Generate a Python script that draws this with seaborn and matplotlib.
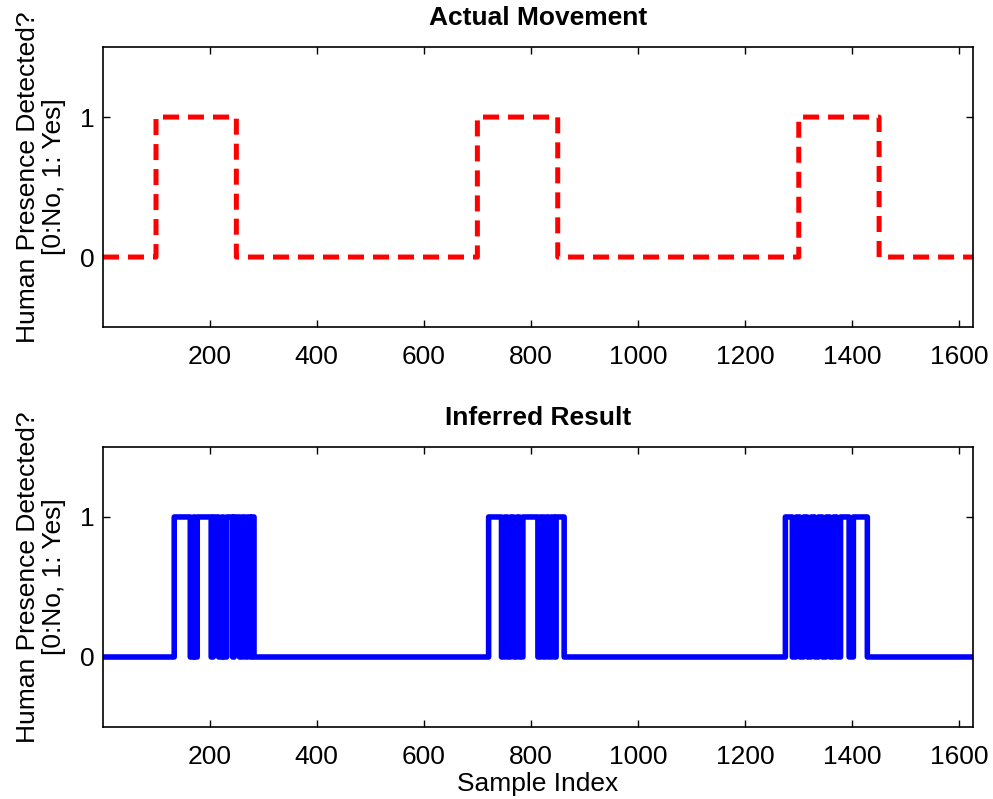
import numpy as np
import pandas as pd
import matplotlib
matplotlib.use("Agg")
import matplotlib.pyplot as plt
import seaborn as sns

# ---- data ----
n_samples = 1625
actual_on = [(100, 250), (700, 850), (1300, 1450)]
inferred_on_c1 = [(134, 164), (170, 172), (177, 203), (207, 217), (223, 226),
                  (232, 243), (246, 256), (261, 266), (271, 276), (279, 283)]
inferred_on_c2 = [(721, 745), (751, 756), (762, 768), (774, 779), (785, 813),
                  (818, 823), (828, 833), (838, 843), (847, 862)]
inferred_on_c3 = [(1275, 1288), (1295, 1302), (1309, 1316), (1323, 1330),
                  (1337, 1344), (1351, 1358), (1365, 1371), (1378, 1394),
                  (1402, 1428)]
x_ticks = [200, 400, 600, 800, 1000, 1200, 1400, 1600]
y_ticks = [0, 1]
titles = ["Actual Movement", "Inferred Result"]
ylabel = "Human Presence Detected?\n[0:No, 1: Yes]"
xlabel = "Sample Index"


def build(intervals):
    s = np.arange(1, n_samples + 1)
    v = np.zeros(n_samples)
    for a, b in intervals:
        v[(s >= a) & (s < b)] = 1
    return pd.DataFrame({"sample": s, "value": v})


df_actual = build(actual_on)
df_inferred = build(inferred_on_c1 + inferred_on_c2 + inferred_on_c3)

sns.set_style("ticks")
plt.rcParams["font.family"] = ["Liberation Sans", "DejaVu Sans"]
plt.rcParams["text.color"] = "black"
plt.rcParams["axes.labelcolor"] = "black"

fig = plt.figure(figsize=(9.93, 7.99), dpi=100)
ax1 = fig.add_axes([0.1037, 0.5907, 0.876, 0.3504])
ax2 = fig.add_axes([0.1037, 0.0901, 0.876, 0.3505])

sns.lineplot(data=df_actual, x="sample", y="value", ax=ax1, color="#ff0000",
             lw=3.6, drawstyle="steps-post", estimator=None, errorbar=None,
             linestyle=(0, (3.2, 1.8)))
sns.lineplot(data=df_inferred, x="sample", y="value", ax=ax2, color="#0000ff",
             lw=4, drawstyle="steps-post", estimator=None, errorbar=None,
             solid_joinstyle="round", solid_capstyle="round")

for ax, t in zip([ax1, ax2], titles):
    ax.set_xlim(1, n_samples)
    ax.set_ylim(-0.5, 1.5)
    ax.set_xticks(x_ticks)
    ax.set_yticks(y_ticks)
    ax.tick_params(direction="in", length=5, width=1, top=True, right=True,
                   labelsize=19, colors="black")
    ax.tick_params(axis="x", pad=13)
    ax.tick_params(axis="y", pad=6)
    for sp in ax.spines.values():
        sp.set_visible(True)
        sp.set_color("black")
        sp.set_linewidth(1.2)
    ax.set_title(t, fontsize=19, fontweight="bold", pad=16, color="black")
    ax.set_ylabel(ylabel, fontsize=19, linespacing=1.1, color="black")
    ax.yaxis.set_label_coords(-0.043, 0.536)
    ax.set_xlabel("")

ax2.set_xlabel(xlabel, fontsize=19, labelpad=2, color="black")

fig.savefig("out.png", dpi=100, facecolor="white")
